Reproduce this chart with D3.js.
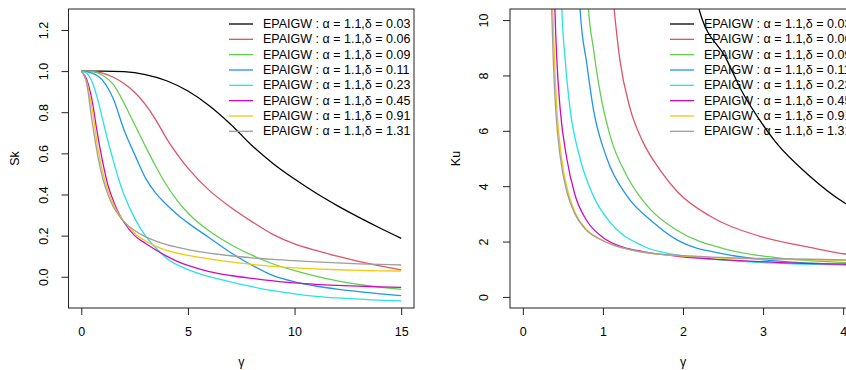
<!DOCTYPE html>
<html>
<head>
<meta charset="utf-8">
<script src="https://cdn.jsdelivr.net/npm/d3@7"></script>
<style>
  html, body { margin: 0; padding: 0; background: #fff; overflow: hidden; }
  svg { display: block; font-family: "Liberation Sans", Arial, Helvetica, sans-serif; }
</style>
</head>
<body>
<svg id="chart" width="846" height="370"></svg>
<script>
// ---------- data ----------
const alphaLabel = "1.1";
const deltaLabels = ["0.03", "0.06", "0.09", "0.11", "0.23", "0.45", "0.91", "1.31"];
const seriesColors = ["#000000", "#DF536B", "#61D04F", "#2297E6", "#28E2E5", "#CD0BBC", "#F5C710", "#9E9E9E"];

const skXTicks = [0, 5, 10, 15];
const skYTicks = ["0.0", "0.2", "0.4", "0.6", "0.8", "1.0", "1.2"];
const kuXTicks = [0, 1, 2, 3, 4];
const kuYTicks = [0, 2, 4, 6, 8, 10];

// Sk (left) : [gamma, Sk]
const sk003 = [[0,1],[1,1],[2,0.997],[3,0.983],[4,0.953],[5,0.903],[6,0.832],[7,0.742],[8,0.638],[9,0.55],[10,0.475],[11,0.407],[12,0.346],[13,0.29],[14,0.237],[15,0.187]];
const sk006 = [[0,1],[0.5,0.999],[1,0.99],[1.5,0.97],[2,0.94],[2.5,0.897],[3,0.838],[3.5,0.762],[4,0.672],[4.5,0.595],[5,0.528],[6,0.42],[7,0.338],[8,0.268],[9,0.205],[10,0.16],[11,0.128],[12,0.1],[13,0.075],[14,0.053],[15,0.033]];
const sk009 = [[0,1],[0.5,0.998],[1,0.98],[1.5,0.935],[2,0.845],[2.5,0.74],[3,0.635],[3.5,0.535],[4,0.445],[4.5,0.37],[5,0.31],[6,0.222],[7,0.157],[8,0.105],[9,0.062],[10,0.03],[11,0.003],[12,-0.02],[13,-0.037],[14,-0.05],[15,-0.061]];
const sk011 = [[0,1],[0.5,0.99],[1,0.955],[1.5,0.865],[2,0.715],[2.5,0.595],[3,0.482],[3.5,0.405],[4,0.35],[4.5,0.303],[5,0.262],[6,0.19],[7,0.118],[8,0.056],[9,0.005],[10,-0.025],[11,-0.045],[12,-0.06],[13,-0.072],[14,-0.083],[15,-0.092]];
const sk023 = [[0,1],[0.25,0.99],[0.5,0.95],[0.75,0.87],[1,0.765],[1.25,0.66],[1.5,0.565],[1.75,0.475],[2,0.4],[2.5,0.285],[3,0.2],[3.5,0.14],[4,0.09],[5,0.035],[6,0.0],[7,-0.025],[8,-0.048],[9,-0.068],[10,-0.083],[11,-0.095],[12,-0.103],[13,-0.109],[14,-0.114],[15,-0.117]];
const sk045 = [[0,1],[0.25,0.96],[0.5,0.86],[0.75,0.7],[1,0.56],[1.25,0.445],[1.5,0.37],[1.75,0.31],[2,0.265],[2.5,0.2],[3,0.163],[3.5,0.13],[4,0.1],[4.5,0.075],[5,0.055],[6,0.025],[7,0.006],[8,-0.008],[9,-0.02],[10,-0.03],[11,-0.037],[12,-0.042],[13,-0.046],[14,-0.049],[15,-0.052]];
const sk091 = [[0,1],[0.25,0.95],[0.5,0.82],[0.75,0.645],[1,0.51],[1.25,0.42],[1.5,0.355],[1.75,0.305],[2,0.27],[2.5,0.212],[3,0.175],[3.5,0.148],[4,0.128],[5,0.104],[6,0.087],[7,0.072],[8,0.06],[9,0.05],[10,0.043],[11,0.038],[12,0.034],[13,0.031],[14,0.029],[15,0.028]];
const sk131 = [[0,1],[0.25,0.94],[0.5,0.76],[0.75,0.6],[1,0.48],[1.25,0.4],[1.5,0.34],[1.75,0.3],[2,0.268],[2.5,0.225],[3,0.195],[3.5,0.173],[4,0.156],[5,0.132],[6,0.115],[7,0.102],[8,0.092],[9,0.084],[10,0.078],[11,0.072],[12,0.067],[13,0.063],[14,0.06],[15,0.057]];

// Ku (right) : [gamma, Ku]
const ku003 = [[2.1,12],[2.2,10.4],[2.54,8.6],[2.74,7.4],[2.95,6.42],[3.16,5.58],[3.58,4.37],[4.01,3.41],[4.2,3.1]];
const ku006 = [[1.09,12],[1.14,10.4],[1.21,8.6],[1.34,6.8],[1.5,5.6],[1.71,4.6],[1.93,3.8],[2.33,2.93],[2.95,2.2],[3.58,1.79],[4.03,1.55],[4.2,1.5]];
const ku009 = [[0.79,12],[0.82,10.4],[0.88,9.0],[0.965,7.4],[1.09,5.82],[1.3,4.37],[1.59,3.17],[1.93,2.4],[2.54,1.72],[3.16,1.42],[4.03,1.24],[4.2,1.22]];
const ku011 = [[0.69,12],[0.715,10.4],[0.8,8.4],[0.88,6.8],[1.05,5.0],[1.3,3.65],[1.63,2.69],[1.93,2.05],[2.54,1.54],[3.16,1.3],[4.03,1.18],[4.2,1.17]];
const ku023 = [[0.47,12],[0.487,10.4],[0.528,8.6],[0.59,6.8],[0.715,5.0],[0.88,3.65],[1.09,2.69],[1.5,1.84],[1.96,1.5],[2.54,1.32],[3.16,1.22],[4.03,1.15],[4.2,1.14]];
const ku045 = [[0.385,12],[0.4,10.4],[0.424,8.6],[0.466,6.8],[0.549,5.0],[0.65,3.7],[0.8,2.75],[1.0,2.15],[1.25,1.8],[1.5,1.64],[1.96,1.46],[2.54,1.34],[3.16,1.25],[4.03,1.18],[4.2,1.17]];
const ku091 = [[0.355,12],[0.374,10.4],[0.395,8.6],[0.425,6.8],[0.485,5.0],[0.565,3.8],[0.66,3.0],[0.79,2.45],[0.96,2.1],[1.16,1.84],[1.5,1.61],[1.96,1.48],[2.54,1.4],[3.16,1.36],[4.03,1.32],[4.2,1.31]];
const ku131 = [[0.345,12],[0.36,10.4],[0.38,8.6],[0.41,6.8],[0.47,5.0],[0.55,3.8],[0.65,3.0],[0.78,2.45],[0.95,2.1],[1.15,1.85],[1.5,1.62],[1.96,1.5],[2.54,1.42],[3.16,1.38],[4.03,1.34],[4.2,1.33]];

const skSeries = [sk003, sk006, sk009, sk011, sk023, sk045, sk091, sk131];
const kuSeries = [ku003, ku006, ku009, ku011, ku023, ku045, ku091, ku131];

// ---------- drawing ----------
const svg = d3.select("#chart");
const FONT = 12.5;

function panel(cfg) {
  const x = d3.scaleLinear().domain(cfg.xDomain).range([cfg.left, cfg.right]);
  const y = d3.scaleLinear().domain(cfg.yDomain).range([cfg.bottom, cfg.top]);
  const g = svg.append("g");

  const clipId = "clip" + cfg.id;
  svg.append("defs").append("clipPath").attr("id", clipId)
    .append("rect").attr("x", cfg.left).attr("y", cfg.top)
    .attr("width", cfg.right - cfg.left).attr("height", cfg.bottom - cfg.top);

  const line = d3.line().x(d => x(d[0])).y(d => y(d[1])).curve(d3.curveMonotoneX);
  const lines = g.append("g").attr("clip-path", `url(#${clipId})`);
  cfg.series.forEach((s, i) => {
    lines.append("path").datum(s).attr("d", line)
      .attr("fill", "none").attr("stroke", seriesColors[i]).attr("stroke-width", 1.3);
  });

  // box
  g.append("rect").attr("x", cfg.left).attr("y", cfg.top)
    .attr("width", cfg.right - cfg.left).attr("height", cfg.bottom - cfg.top)
    .attr("fill", "none").attr("stroke", "#222").attr("stroke-width", 1);

  // x axis
  const xa = g.append("g").attr("transform", `translate(0,${cfg.bottom})`)
    .call(d3.axisBottom(x).tickValues(cfg.xTicks).tickSize(7).tickPadding(12).tickFormat(d => String(d)));
  xa.select(".domain").remove();
  xa.selectAll("text").attr("font-size", FONT).attr("font-family", "Liberation Sans, Arial, sans-serif").attr("fill", "#000");
  xa.selectAll("line").attr("stroke", "#222");

  // y axis
  const ya = g.append("g").attr("transform", `translate(${cfg.left},0)`)
    .call(d3.axisLeft(y).tickValues(cfg.yTicks.map(Number)).tickSize(7).tickFormat((d, i) => String(cfg.yTicks[i])));
  ya.select(".domain").remove();
  ya.selectAll("line").attr("stroke", "#222");
  ya.selectAll("text")
    .attr("font-size", FONT).attr("font-family", "Liberation Sans, Arial, sans-serif").attr("fill", "#000")
    .attr("text-anchor", "middle").attr("x", 0).attr("dy", 0)
    .attr("transform", `translate(${cfg.yLabelX - cfg.left},0) rotate(-90)`)
    .attr("dominant-baseline", "central");

  // axis titles
  g.append("text").attr("x", (cfg.left + cfg.right) / 2).attr("y", 366)
    .attr("text-anchor", "middle").attr("font-size", FONT).text("γ");
  g.append("text").attr("transform", `translate(${cfg.titleX},${(cfg.top + cfg.bottom) / 2}) rotate(-90)`)
    .attr("text-anchor", "middle").attr("dominant-baseline", "central").attr("font-size", FONT).text(cfg.yTitle);

  // legend
  const lg = g.append("g");
  deltaLabels.forEach((dl, i) => {
    const yy = 24 + i * 15.33;
    lg.append("line").attr("x1", cfg.legendX).attr("x2", cfg.legendX + 24)
      .attr("y1", yy).attr("y2", yy).attr("stroke", seriesColors[i]).attr("stroke-width", 1.3);
    lg.append("text").attr("x", cfg.legendX + 34).attr("y", yy).attr("dominant-baseline", "central")
      .attr("font-size", FONT).attr("fill", "#000")
      .text(`EPAIGW : α = ${alphaLabel},δ = ${dl}`);
  });
}

panel({
  id: "sk", series: skSeries, xDomain: [-0.6, 15.6], yDomain: [-0.152, 1.302],
  left: 68.5, right: 414, top: 9, bottom: 308,
  xTicks: skXTicks, yTicks: skYTicks, yLabelX: 43.5, titleX: 15, yTitle: "Sk", legendX: 229
});
panel({
  id: "ku", series: kuSeries, xDomain: [-0.16, 4.16], yDomain: [-0.4, 10.4],
  left: 510, right: 856, top: 9, bottom: 308,
  xTicks: kuXTicks, yTicks: kuYTicks, yLabelX: 483.5, titleX: 456, yTitle: "Ku", legendX: 670
});
</script>
</body>
</html>
